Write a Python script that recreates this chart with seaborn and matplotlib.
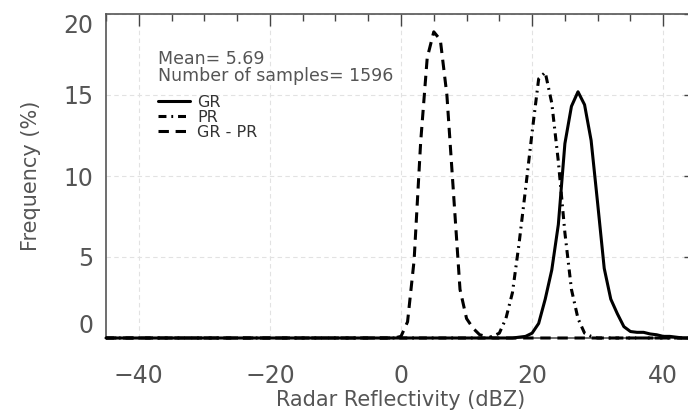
import pandas as pd
import numpy as np
import matplotlib
matplotlib.use("Agg")
import matplotlib.pyplot as plt
import seaborn as sns

# Histogram bins (dBZ) and frequencies (%)
bins = list(range(-45, 46))

gr_start = 18
gr_freq = [0.05, 0.1, 0.3, 0.9, 2.4, 4.2, 7.0, 12.0, 14.3, 15.2, 14.4, 12.2, 8.3,
           4.3, 2.4, 1.5, 0.7, 0.4, 0.35, 0.35, 0.25, 0.2, 0.1, 0.1, 0.05]

pr_start = 14
pr_freq = [0.1, 0.3, 1.2, 2.8, 5.8, 9.2, 12.7, 16.0, 16.4, 14.5, 10.9, 6.5, 3.0, 1.2, 0.3, 0.1]

diff_start = 0
diff_freq = [0.1, 1.0, 4.8, 12.1, 17.3, 18.9, 18.4, 15.0, 9.0, 3.0, 1.2, 0.6, 0.2, 0.1]

mean_diff = 5.69
n_samples = 1596


def full_series(start, values):
    # pad the non-zero part out to the full bin range with zeros
    s = pd.Series(values, index=range(start, start + len(values)))
    return s.reindex(bins, fill_value=0.0).values


df = pd.DataFrame({
    "dbz": bins,
    "GR": full_series(gr_start, gr_freq),
    "PR": full_series(pr_start, pr_freq),
    "GR - PR": full_series(diff_start, diff_freq),
})

sns.set_style("white")
plt.rcParams["font.family"] = ["DejaVu Sans"]

txt_color = "#555555"

fig = plt.figure(figsize=(6.88, 4.2), dpi=100)
ax = fig.add_axes([106 / 688, (420 - 338) / 420, 590 / 688, 324 / 420])

styles = {
    "GR": "-",
    "PR": (0, (2.6, 1.6, 0.6, 1.6)),
    "GR - PR": (0, (3.4, 2.2)),
}
for name, ls in styles.items():
    sns.lineplot(data=df, x="dbz", y=name, ax=ax, color="black", lw=2.2,
                 linestyle=ls, label=name, clip_on=False, zorder=3)

ax.set_xlim(-45, 45)
ax.set_ylim(0, 20)
ax.set_xticks([-40, -20, 0, 20, 40])
ax.set_xticklabels(["\u221240", "\u221220", "0", "20", "40"])
ax.set_yticks([0, 5, 10, 15, 20])
ax.xaxis.set_minor_locator(matplotlib.ticker.MultipleLocator(5))
ax.yaxis.set_minor_locator(matplotlib.ticker.MultipleLocator(1))

ax.grid(True, which="major", color="#e2e2e2", linestyle=(0, (4, 3)), lw=0.8)
ax.set_axisbelow(True)

ax.tick_params(which="both", direction="in", top=True, right=True,
               color="#444444", width=1.0, labelcolor=txt_color)
ax.tick_params(which="major", length=8.5, labelsize=17)
ax.tick_params(which="minor", length=5)
ax.tick_params(axis="x", which="major", pad=19)
ax.tick_params(axis="y", which="major", pad=9)

for sp in ax.spines.values():
    sp.set_color("#555555")
    sp.set_linewidth(1.2)

ylabels = ax.get_yticklabels()
ylabels[0].set_va("bottom")
ylabels[-1].set_va("top")

ax.set_xlabel("Radar Reflectivity (dBZ)", fontsize=15, color=txt_color)
ax.set_ylabel("Frequency (%)", fontsize=15, color=txt_color)
ax.xaxis.set_label_coords(0.5, -0.16)
ax.yaxis.set_label_coords(-0.11, 0.5)

ax.text(0.088, 0.889, f"Mean= {mean_diff:.2f}\nNumber of samples= {n_samples}",
        transform=ax.transAxes, ha="left", va="top", fontsize=12.5,
        color=txt_color, linespacing=0.95)

ax.legend(loc="upper left", bbox_to_anchor=(0.088, 0.75), frameon=False,
          fontsize=11.5, handlelength=2.0, handletextpad=0.45,
          labelspacing=0.0, borderpad=0, borderaxespad=0,
          labelcolor="#333333")

fig.savefig("out.png", dpi=100)
